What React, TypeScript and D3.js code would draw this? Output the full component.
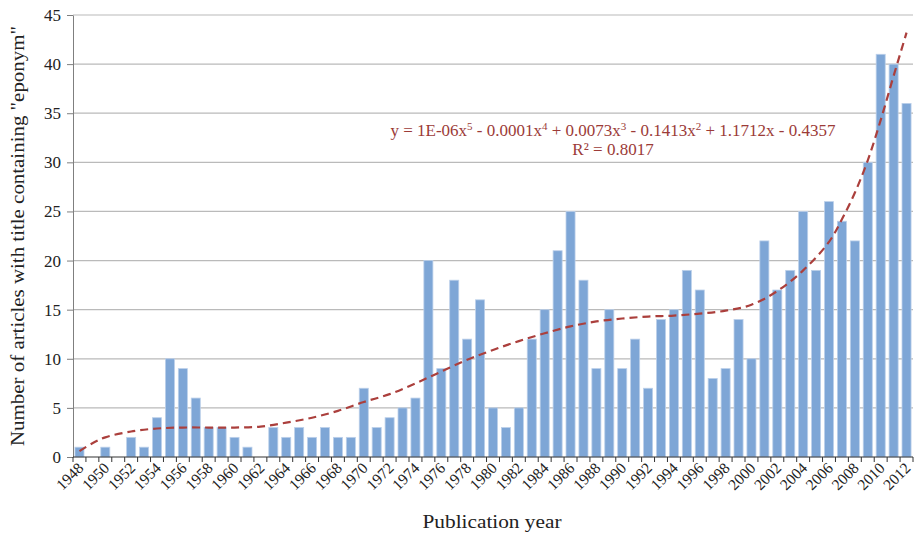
import React, { useEffect, useRef } from "react";
import * as d3 from "d3";

// articles per year with "eponym" in the title
const years = d3.range(1948, 2013);
const counts = [
  1, 0, 1, 0, 2, 1, 4, 10, 9, 6, 3, 3, 2, 1, 0, 3, 2, 3, 2, 3, 2, 2, 7, 3, 4, 5,
  6, 20, 9, 18, 12, 16, 5, 3, 5, 12, 15, 21, 25, 18, 9, 15, 9, 12, 7, 14, 15,
  19, 17, 8, 9, 14, 10, 22, 17, 19, 25, 19, 26, 24, 22, 30, 41, 40, 36,
];

// polynomial trendline
const trendYears = [
  1948, 1949, 1950, 1952, 1954, 1956, 1958, 1960, 1962, 1964, 1966, 1968, 1970,
  1972, 1974, 1976, 1978, 1980, 1982, 1984, 1986, 1988, 1990, 1992, 1994, 1996,
  1998, 2000, 2002, 2004, 2006, 2007, 2008, 2009, 2010, 2011, 2012,
];
const trendValues = [
  0.6, 1.4, 2.0, 2.6, 2.9, 3.0, 3.0, 3.0, 3.1, 3.5, 4.0, 4.7, 5.6, 6.4, 7.5,
  8.7, 9.9, 10.9, 11.8, 12.6, 13.3, 13.8, 14.1, 14.3, 14.4, 14.6, 14.9, 15.5,
  16.9, 19.0, 21.9, 24.2, 26.9, 30.2, 34.3, 38.8, 43.2,
];

const yTicks = d3.range(0, 46, 5);
const equation = [
  "y = 1E-06x",
  "5",
  " - 0.0001x",
  "4",
  " + 0.0073x",
  "3",
  " - 0.1413x",
  "2",
  " + 1.1712x - 0.4357",
];

const App = () => {
  const ref = useRef<SVGSVGElement>(null);

  useEffect(() => {
    const width = 916;
    const height = 536;
    const marginLeft = 73;
    const marginRight = 3;
    const marginTop = 15;
    const marginBottom = 79;
    const font = "'Liberation Serif', 'Times New Roman', serif";

    const svg = d3.select(ref.current);
    svg.selectAll("*").remove();

    const x = d3
      .scaleBand()
      .domain(years.map(String))
      .range([marginLeft, width - marginRight])
      .paddingInner(0.3)
      .paddingOuter(0.15);

    const y = d3
      .scaleLinear()
      .domain([0, 45])
      .range([height - marginBottom, marginTop]);

    const step = x.step();
    const center = (yr: number) =>
      (x(String(years[0])) as number) + x.bandwidth() / 2 + (yr - years[0]) * step;

    // gridlines
    svg
      .append("g")
      .attr("stroke", "#bababa")
      .attr("stroke-width", 1.2)
      .selectAll("line")
      .data(yTicks.filter((d) => d > 0))
      .join("line")
      .attr("x1", marginLeft)
      .attr("x2", width - marginRight)
      .attr("y1", (d) => y(d))
      .attr("y2", (d) => y(d));

    // bars
    svg
      .append("g")
      .selectAll("rect")
      .data(years)
      .join("rect")
      .attr("x", (d) => x(String(d)) as number)
      .attr("width", x.bandwidth())
      .attr("y", (d, i) => y(counts[i]))
      .attr("height", (d, i) => y(0) - y(counts[i]))
      .attr("fill", "#7ea6d6")
      .attr("stroke", "#bcd0ea")
      .attr("stroke-width", 0.8);

    // y axis
    svg
      .append("g")
      .attr("transform", `translate(${marginLeft},0)`)
      .call(d3.axisLeft(y).tickValues(yTicks).tickSize(6).tickPadding(6).tickSizeOuter(0))
      .call((g) => g.selectAll("line, path").attr("stroke", "#7f7f7f"))
      .call((g) =>
        g
          .selectAll("text")
          .attr("font-family", font)
          .attr("font-size", 17)
          .attr("fill", "#222")
      );

    // x axis
    const gx = svg.append("g");
    gx.append("line")
      .attr("x1", marginLeft)
      .attr("x2", width - marginRight)
      .attr("y1", y(0))
      .attr("y2", y(0))
      .attr("stroke", "#333")
      .attr("stroke-width", 1.2);
    gx.selectAll("line.tick")
      .data(d3.range(years.length + 1))
      .join("line")
      .attr("class", "tick")
      .attr("x1", (i) => marginLeft + i * step)
      .attr("x2", (i) => marginLeft + i * step)
      .attr("y1", y(0))
      .attr("y2", y(0) + 5)
      .attr("stroke", "#333");
    gx.selectAll("text")
      .data(years.filter((d) => d % 2 === 0))
      .join("text")
      .attr("transform", (d) => `translate(${center(d) + 5},${y(0) + 12}) rotate(-45)`)
      .attr("text-anchor", "end")
      .attr("font-family", font)
      .attr("font-size", 15.5)
      .attr("fill", "#222")
      .text((d) => d);

    // trendline
    const line = d3
      .line<number>()
      .x((d, i) => center(trendYears[i]))
      .y((d) => y(d))
      .curve(d3.curveCatmullRom);
    svg
      .append("path")
      .attr("d", line(trendValues))
      .attr("fill", "none")
      .attr("stroke", "#ab3f3c")
      .attr("stroke-width", 2.2)
      .attr("stroke-dasharray", "8,5");

    // equation label
    const eq = svg
      .append("text")
      .attr("x", 613)
      .attr("y", 136)
      .attr("text-anchor", "middle")
      .attr("font-family", font)
      .attr("font-size", 17)
      .attr("fill", "#9c3b38");
    equation.forEach((s, i) => {
      const t = eq.append("tspan").text(s);
      if (i % 2 === 1) t.attr("font-size", 11).attr("dy", -6);
      else if (i > 0) t.attr("dy", 6);
    });
    svg
      .append("text")
      .attr("x", 613)
      .attr("y", 155)
      .attr("text-anchor", "middle")
      .attr("font-family", font)
      .attr("font-size", 17)
      .attr("fill", "#9c3b38")
      .text("R² = 0.8017");

    // axis titles
    svg
      .append("text")
      .attr("x", 492)
      .attr("y", 528)
      .attr("text-anchor", "middle")
      .attr("font-family", font)
      .attr("font-size", 19)
      .attr("textLength", 139)
      .attr("lengthAdjust", "spacingAndGlyphs")
      .attr("fill", "#222")
      .text("Publication year");

    svg
      .append("text")
      .attr("transform", `translate(24,${(y(0) + y(45)) / 2}) rotate(-90)`)
      .attr("text-anchor", "middle")
      .attr("font-family", font)
      .attr("font-size", 19)
      .attr("textLength", 420)
      .attr("lengthAdjust", "spacingAndGlyphs")
      .attr("fill", "#222")
      .text('Number of articles with title containing "eponym"');
  }, []);

  return (
    <svg
      ref={ref}
      width={916}
      height={536}
      style={{ position: "absolute", left: 0, top: 0, background: "#fff" }}
    ></svg>
  );
};

export default App;
